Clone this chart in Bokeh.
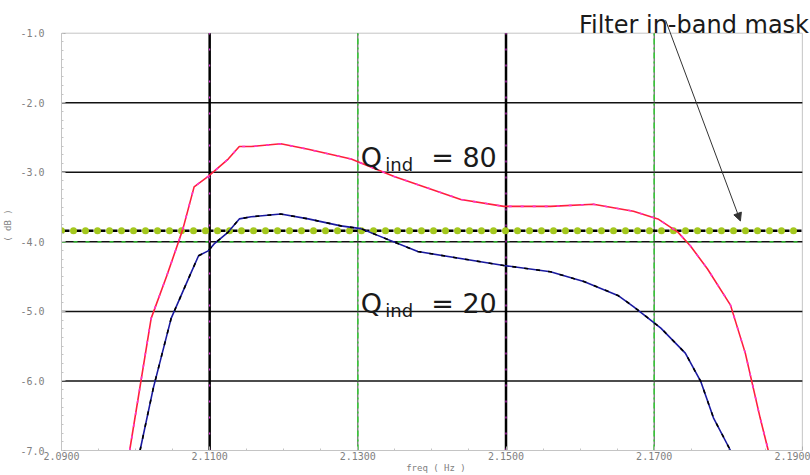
from bokeh.plotting import figure
from bokeh.models import Range1d, FixedTicker, SingleIntervalTicker, PrintfTickFormatter, Span, Label, Arrow, NormalHead
from bokeh.embed import file_html
from bokeh.resources import INLINE

# ---- data ----
freq_q80 = [2.0992, 2.1021, 2.1042, 2.1058, 2.1064, 2.1079, 2.1098, 2.1125, 2.1140, 2.1156,
            2.1196, 2.1233, 2.1291, 2.1349, 2.1439, 2.1497, 2.1560, 2.1618, 2.1672, 2.1705,
            2.1732, 2.1749, 2.1772, 2.1803, 2.1823, 2.1843, 2.1854]
db_q80 = [-7.0, -5.10, -4.49, -4.00, -3.81, -3.21, -3.06, -2.81, -2.63, -2.63,
          -2.59, -2.67, -2.81, -3.06, -3.39, -3.49, -3.49, -3.46, -3.56, -3.67,
          -3.86, -4.06, -4.39, -4.91, -5.60, -6.53, -7.0]

freq_q20 = [2.1006, 2.1024, 2.1048, 2.1073, 2.1085, 2.1098, 2.1106, 2.1125, 2.1140, 2.1156,
            2.1196, 2.1233, 2.1277, 2.1304, 2.1381, 2.1497, 2.1560, 2.1605, 2.1651, 2.1672,
            2.1709, 2.1742, 2.1763, 2.1780, 2.1803]
db_q20 = [-7.0, -6.10, -5.10, -4.49, -4.20, -4.13, -4.03, -3.86, -3.67, -3.64,
          -3.60, -3.67, -3.77, -3.81, -4.14, -4.34, -4.43, -4.57, -4.77, -4.93,
          -5.24, -5.60, -6.01, -6.53, -7.0]

mask_freq = [2.09, 2.19]
mask_db = [-3.84, -3.84]

h_lines = [-2.0, -3.0, -4.0, -5.0, -6.0]
v_lines_solid = [2.11, 2.15]
v_lines_dashed = [2.13, 2.17]

x_tick_values = [2.09, 2.11, 2.13, 2.15, 2.17, 2.19]
x_minor_ticks = [round(t + k * 0.005, 4) for t in x_tick_values[:-1] for k in range(1, 4)]

X_MIN, X_MAX = 2.09, 2.19
Y_MIN, Y_MAX = -7.0, -1.0
Y_TOP = -0.53     # headroom above the axes box for the title text and arrow
X_RIGHT = 2.1911  # a few pixels of room right of the axes box for the title text

# ---- figure ----
p = figure(width=810, height=475, output_backend="svg", toolbar_location=None,
           x_range=Range1d(X_MIN, X_RIGHT), y_range=Range1d(Y_MIN, Y_TOP),
           min_border_left=60, min_border_right=0, min_border_top=0, min_border_bottom=22)
p.background_fill_color = "white"
p.border_fill_color = "white"
p.outline_line_color = None
p.xgrid.grid_line_color = None
p.ygrid.grid_line_color = None

for ax in (p.xaxis[0], p.yaxis[0]):
    ax.axis_line_color = "#c4c4c4"
    ax.major_tick_line_color = "#b0b0b0"
    ax.minor_tick_line_color = "#c4c4c4"
    ax.major_tick_out = 0
    ax.major_tick_in = 4
    ax.minor_tick_out = 0
    ax.minor_tick_in = 2
    ax.major_label_text_font = "DejaVu Sans Mono"
    ax.major_label_text_font_size = "10px"
    ax.major_label_text_color = "#808080"
    ax.axis_label_text_font = "DejaVu Sans Mono"
    ax.axis_label_text_font_size = "9px"
    ax.axis_label_text_color = "#808080"
    ax.axis_label_text_font_style = "normal"

p.xaxis.ticker = FixedTicker(ticks=x_tick_values, minor_ticks=x_minor_ticks)
p.xaxis.formatter = PrintfTickFormatter(format="%.4f")
p.xaxis.bounds = (X_MIN, X_MAX)
p.xaxis.major_label_standoff = 1
p.xaxis.axis_label = "freq ( Hz )"
p.xaxis.axis_label_standoff = 0

p.yaxis.ticker = SingleIntervalTicker(interval=1, num_minor_ticks=8)
p.yaxis.formatter = PrintfTickFormatter(format="%.1f")
p.yaxis.bounds = (Y_MIN, Y_MAX)
p.yaxis.major_label_standoff = 17
p.yaxis.axis_label = "( dB )"
p.yaxis.axis_label_standoff = 4

# box top and right edges
p.line([X_MIN, X_MAX], [Y_MAX, Y_MAX], line_color="#c4c4c4", line_width=1)
p.line([X_MAX, X_MAX], [Y_MIN, Y_MAX], line_color="#c4c4c4", line_width=1)

# reference lines
p.segment(x0=[X_MIN] * len(h_lines), y0=h_lines, x1=[X_MAX] * len(h_lines), y1=h_lines,
          line_color="#111111", line_width=1.5)
p.segment(x0=[X_MIN], y0=[h_lines[2]], x1=[X_MAX], y1=[h_lines[2]],
          line_color="#33dd33", line_width=1.2, line_dash="4 8")
p.segment(x0=v_lines_solid, y0=[Y_MIN] * len(v_lines_solid), x1=v_lines_solid, y1=[Y_MAX] * len(v_lines_solid),
          line_color="#000000", line_width=2.5)
p.segment(x0=v_lines_solid, y0=[Y_MIN] * len(v_lines_solid), x1=v_lines_solid, y1=[Y_MAX] * len(v_lines_solid),
          line_color="#ff33ff", line_width=1, line_dash="2 14")
p.segment(x0=v_lines_dashed, y0=[Y_MIN] * len(v_lines_dashed), x1=v_lines_dashed, y1=[Y_MAX] * len(v_lines_dashed),
          line_color="#444444", line_width=1)
p.segment(x0=v_lines_dashed, y0=[Y_MIN] * len(v_lines_dashed), x1=v_lines_dashed, y1=[Y_MAX] * len(v_lines_dashed),
          line_color="#33cc33", line_width=1.5, line_dash="6 3 2 3")

# mask
p.line(mask_freq, mask_db, line_color="#000000", line_width=2.5, line_dash="8 4")
p.line(mask_freq, mask_db, line_color="#a4c81e", line_width=7, line_dash="0 12", line_cap="round")

# curves
p.line(freq_q80, db_q80, line_color="#ff1f3d", line_width=1.6)
p.line(freq_q80, db_q80, line_color="#ff33cc", line_width=1.6, line_dash="3 9")
p.line(freq_q20, db_q20, line_color="#1a1aa0", line_width=1.6)
p.line(freq_q20, db_q20, line_color="#000000", line_width=1.6, line_dash="4 8")

# annotations
fnt = "DejaVu Sans"
p.add_layout(Label(x=2.1304, y=-2.786, text="Q", text_font=fnt, text_font_size="27px",
                   text_color="#1a1a1a", text_baseline="alphabetic"))
p.add_layout(Label(x=2.1337, y=-2.886, text="ind", text_font=fnt, text_font_size="18px",
                   text_color="#1a1a1a", text_baseline="alphabetic"))
p.add_layout(Label(x=2.1399, y=-2.786, text="= 80", text_font=fnt, text_font_size="27px",
                   text_color="#1a1a1a", text_baseline="alphabetic"))

p.add_layout(Label(x=2.1304, y=-4.886, text="Q", text_font=fnt, text_font_size="27px",
                   text_color="#1a1a1a", text_baseline="alphabetic"))
p.add_layout(Label(x=2.1337, y=-4.986, text="ind", text_font=fnt, text_font_size="18px",
                   text_color="#1a1a1a", text_baseline="alphabetic"))
p.add_layout(Label(x=2.1399, y=-4.886, text="= 20", text_font=fnt, text_font_size="27px",
                   text_color="#1a1a1a", text_baseline="alphabetic"))

p.add_layout(Label(x=2.1909, y=-0.886, text="Filter in-band mask", text_font=fnt,
                   text_font_size="24px", text_color="#1a1a1a", text_align="right",
                   text_baseline="alphabetic"))
p.add_layout(Arrow(x_start=2.17154, y_start=-0.814, x_end=2.18164, y_end=-3.70,
                   line_color="#333333", line_width=1,
                   end=NormalHead(size=8, fill_color="#333333", line_color="#333333")))

open("out.html", "w").write(file_html(p, INLINE))
